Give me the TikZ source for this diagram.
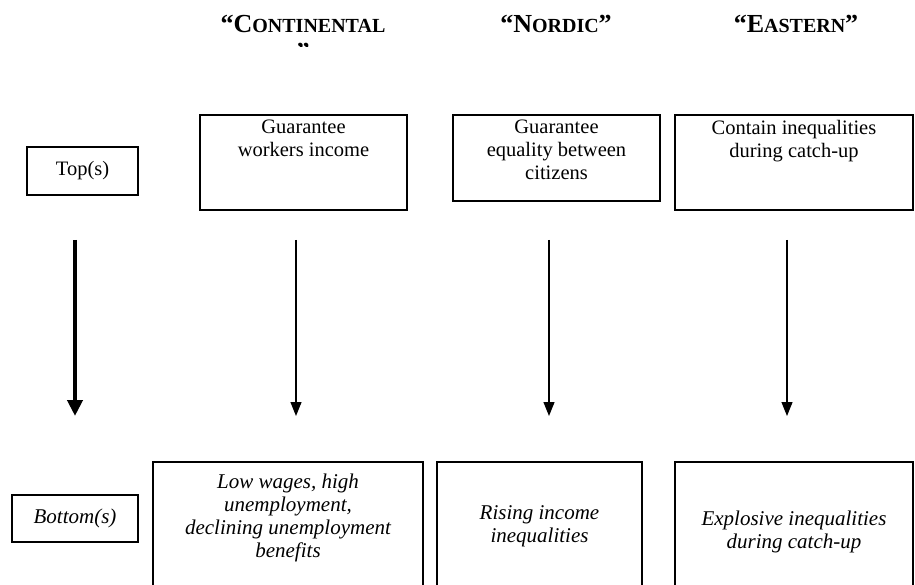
\documentclass[tikz,border=0pt]{standalone}
\usepackage{fontspec}
\setmainfont{Liberation Serif}
\usetikzlibrary{arrows.meta}
\newcommand{\capsmall}[1]{{\fontsize{20}{20}\selectfont #1}}

\begin{document}
\begin{tikzpicture}[x=1pt,y=-1pt,
		box/.style={draw,line width=1.4pt,inner sep=0pt},
		txt/.style={align=center,inner sep=0pt,font=\fontsize{20.5}{23}\selectfont},
		itxt/.style={align=center,inner sep=0pt,font=\fontsize{21}{23}\selectfont\itshape},
		head/.style={inner sep=0pt,font=\bfseries\fontsize{26}{28}\selectfont},
		flow/.style={line width=1.2pt,-{Triangle[width=11pt,length=14pt]}},
		bigflow/.style={line width=4pt,-{Triangle[width=15pt,length=16pt]}}]
			\useasboundingbox (0,0) rectangle (915,585);
			\clip (0,0) rectangle (915,585);
			% headers
			\node[head] (contHead) at (303,23.5) {“C\capsmall{ONTINENTAL}};
			\begin{scope}
				\clip (200,0) rectangle (410,46.5);
				\node[head] (contHeadB) at (303,52) {”};
			\end{scope}
			\node[head] (nordHead) at (556,23.5) {“N\capsmall{ORDIC}”};
			\node[head] (eastHead) at (796,23.5) {“E\capsmall{ASTERN}”};
			% top row
			\node[box,txt,minimum width=111pt,minimum height=48pt] (topLbl) at (82.5,171) {Top(s)};
			\node[box,minimum width=207pt,minimum height=95pt] (contTop) at (303.5,162.5) {};
			\node[box,minimum width=207pt,minimum height=86pt] (nordTop) at (556.5,158) {};
			\node[box,minimum width=238pt,minimum height=95pt] (eastTop) at (794,162.5) {};
			\node[txt,anchor=north] (contTopTxt) at (303.5,120) {Guarantee\\workers income};
			\node[txt,anchor=north] (nordTopTxt) at (556.5,120) {Guarantee\\equality between\\citizens};
			\node[txt,anchor=north] (eastTopTxt) at (794,120) {Contain inequalities\\during catch-up};
			% bottom row
			\node[box,itxt,minimum width=126pt,minimum height=47pt] (botLbl) at (75,518.5) {Bottom(s)};
			\node[box,minimum width=270pt,minimum height=138pt] (contBot) at (288,531) {};
			\node[box,minimum width=205pt,minimum height=138pt] (nordBot) at (539.5,531) {};
			\node[box,minimum width=238pt,minimum height=138pt] (eastBot) at (794,531) {};
			\node[itxt] (contBotTxt) at (288,518) {Low wages, high\\unemployment,\\declining unemployment\\benefits};
			\node[itxt] (nordBotTxt) at (539.5,526) {Rising income\\inequalities};
			\node[itxt] (eastBotTxt) at (794,532) {Explosive inequalities\\during catch-up};
			% arrows
			\coordinate (topA) at (75,240);
			\coordinate (botA) at (75,416);
			\coordinate (topB) at (296,240);
			\coordinate (botB) at (296,416);
			\coordinate (topC) at (549,240);
			\coordinate (botC) at (549,416);
			\coordinate (topD) at (787,240);
			\coordinate (botD) at (787,416);
			\draw[bigflow] (topA) -- (botA);
			\draw[flow] (topB) -- (botB);
			\draw[flow] (topC) -- (botC);
			\draw[flow] (topD) -- (botD);
		\end{tikzpicture}
\end{document}
